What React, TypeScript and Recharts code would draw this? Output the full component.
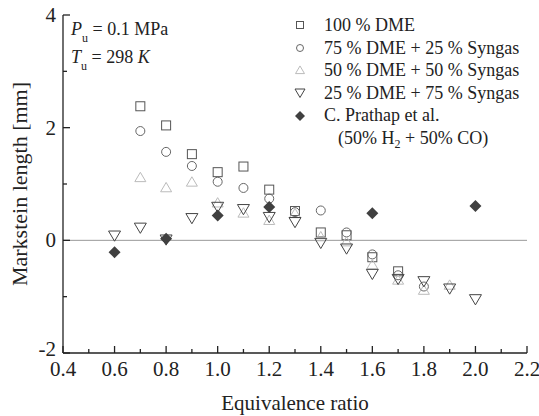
import React from "react";
import {
  ScatterChart,
  Scatter,
  XAxis,
  YAxis,
  ReferenceLine,
} from "recharts";

// equivalence ratio values per series
const xDme100 = [0.7, 0.8, 0.9, 1.0, 1.1, 1.2, 1.3, 1.4, 1.5, 1.6, 1.7];
const yDme100 = [2.38, 2.04, 1.53, 1.21, 1.31, 0.9, 0.52, 0.14, 0.09, -0.3, -0.55];

const xDme75 = [0.7, 0.8, 0.9, 1.0, 1.1, 1.2, 1.3, 1.4, 1.5, 1.6, 1.7, 1.8];
const yDme75 = [1.94, 1.57, 1.32, 1.04, 0.93, 0.74, 0.5, 0.53, 0.14, -0.25, -0.62, -0.82];

const xDme50 = [0.7, 0.8, 0.9, 1.0, 1.1, 1.2, 1.3, 1.4, 1.5, 1.6, 1.7, 1.8, 1.9];
const yDme50 = [1.12, 0.94, 1.04, 0.67, 0.49, 0.36, 0.48, 0.07, -0.02, -0.43, -0.7, -0.88, -0.79];

const xDme25 = [0.6, 0.7, 0.8, 0.9, 1.0, 1.1, 1.2, 1.3, 1.4, 1.5, 1.6, 1.7, 1.8, 1.9, 2.0];
const yDme25 = [0.08, 0.22, 0.01, 0.39, 0.59, 0.55, 0.41, 0.32, -0.05, -0.15, -0.6, -0.69, -0.73, -0.86, -1.05];

const xPrathap = [0.6, 0.8, 1.0, 1.2, 1.6, 2.0];
const yPrathap = [-0.21, 0.03, 0.44, 0.59, 0.48, 0.61];

const xTicks = [0.4, 0.5, 0.6, 0.7, 0.8, 0.9, 1.0, 1.1, 1.2, 1.3, 1.4, 1.5, 1.6, 1.7, 1.8, 1.9, 2.0, 2.1, 2.2];
const yTicks = [-2, -1, 0, 1, 2, 3, 4];

const legendLabels = [
  "100 % DME",
  "75 % DME + 25 % Syngas",
  "50 % DME + 50 % Syngas",
  "25 % DME + 75 % Syngas",
  "C. Prathap et al.",
];

const toPoints = (xs: number[], ys: number[]) => xs.map((x, i) => ({ x, y: ys[i] }));

const FONT = "'Liberation Serif', 'Times New Roman', serif";
const AXIS = "#222";

const Square = ({ cx, cy, s = 9 }: any) => (
  <rect x={cx - s / 2} y={cy - s / 2} width={s} height={s} fill="none" stroke="#555" strokeWidth={1} />
);
const Circle = ({ cx, cy, s = 9 }: any) => (
  <circle cx={cx} cy={cy} r={s / 2} fill="none" stroke="#666" strokeWidth={1} />
);
const TriUp = ({ cx, cy, s = 11 }: any) => (
  <polygon
    points={`${cx - s / 2},${cy + s * 0.4} ${cx + s / 2},${cy + s * 0.4} ${cx},${cy - s * 0.45}`}
    fill="none"
    stroke="#bbb"
    strokeWidth={1}
  />
);
const TriDown = ({ cx, cy, s = 12 }: any) => (
  <polygon
    points={`${cx - s / 2},${cy - s * 0.4} ${cx + s / 2},${cy - s * 0.4} ${cx},${cy + s * 0.45}`}
    fill="none"
    stroke="#444"
    strokeWidth={1}
  />
);
const Diamond = ({ cx, cy, s = 12 }: any) => (
  <polygon
    points={`${cx},${cy - s / 2} ${cx + s / 2},${cy} ${cx},${cy + s / 2} ${cx - s / 2},${cy}`}
    fill="#404040"
  />
);

const markers = [Square, Circle, TriUp, TriDown, Diamond];
const legendSizes = [7, 7, 9, 10, 10];

const XTick = ({ x, y, payload }: any) => {
  const v = payload.value;
  const major = Math.round(v * 10) % 2 === 0;
  return (
    <g>
      <line x1={x} x2={x} y1={y} y2={y - (major ? 7 : 4)} stroke={AXIS} strokeWidth={1.3} />
      {major && (
        <text x={x} y={y + 23} textAnchor="middle" fontSize={21} fontFamily={FONT} fill={AXIS}>
          {v.toFixed(1)}
        </text>
      )}
    </g>
  );
};

const YTick = ({ x, y, payload }: any) => {
  const v = payload.value;
  const major = v % 2 === 0;
  return (
    <g>
      <line x1={x} x2={x + (major ? 7 : 4)} y1={y} y2={y} stroke={AXIS} strokeWidth={1.3} />
      {major && (
        <text x={x - 7} y={y + (v === -2 ? 3 : 7)} textAnchor="end" fontSize={21} fontFamily={FONT} fill={AXIS}>
          {v}
        </text>
      )}
    </g>
  );
};

const YLabel = () => (
  <text
    x={19}
    y={184}
    transform="rotate(-90 19 184)"
    textAnchor="middle"
    dominantBaseline="central"
    fontSize={22}
    fontFamily={FONT}
    fill={AXIS}
  >
    Markstein length [mm]
  </text>
);

const XLabel = () => (
  <text x={295} y={410} textAnchor="middle" fontSize={21} fontFamily={FONT} fill={AXIS}>
    Equivalence ratio
  </text>
);

const LegendBox = () => (
  <div
    style={{
      position: "absolute",
      left: 290,
      top: 14,
      fontFamily: FONT,
      fontSize: 18,
      color: AXIS,
      lineHeight: "22.6px",
    }}
  >
    {legendLabels.map((label, i) => {
      const M = markers[i];
      return (
        <div key={label} style={{ display: "flex", alignItems: "center", height: 22.6 }}>
          <svg width={20} height={20} style={{ marginRight: 14 }}>
            <M cx={10} cy={10} s={legendSizes[i]} />
          </svg>
          <span style={{ whiteSpace: "nowrap" }}>{label}</span>
        </div>
      );
    })}
    <div style={{ paddingLeft: 48, whiteSpace: "nowrap", height: 22.6 }}>
      (50% H<sub style={{ fontSize: 12, verticalAlign: "-4px", lineHeight: 0 }}>2</sub> + 50% CO)
    </div>
  </div>
);

export default function App() {
  const series = [
    toPoints(xDme100, yDme100),
    toPoints(xDme75, yDme75),
    toPoints(xDme50, yDme50),
    toPoints(xDme25, yDme25),
    toPoints(xPrathap, yPrathap),
  ];
  return (
    <div style={{ position: "absolute", left: 0, top: 0, width: 539, height: 416, background: "#fff" }}>
      <ScatterChart width={539} height={416} margin={{ top: 15, right: 12, left: 0, bottom: 0 }}>
        <XAxis
          dataKey="x"
          type="number"
          domain={[0.4, 2.2]}
          ticks={xTicks}
          interval={0}
          height={63}
          tickSize={0}
          tickMargin={0}
          tickLine={false}
          tick={<XTick />}
          axisLine={{ stroke: AXIS, strokeWidth: 1.3 }}
          label={<XLabel />}
        />
        <XAxis
          xAxisId="top"
          orientation="top"
          type="number"
          domain={[0.4, 2.2]}
          height={0}
          tick={false}
          tickLine={false}
          axisLine={{ stroke: AXIS, strokeWidth: 1.3 }}
        />
        <YAxis
          dataKey="y"
          type="number"
          domain={[-2, 4]}
          ticks={yTicks}
          interval={0}
          width={63}
          tickSize={0}
          tickMargin={0}
          tickLine={false}
          tick={<YTick />}
          axisLine={{ stroke: AXIS, strokeWidth: 1.3 }}
          label={<YLabel />}
        />
        <YAxis
          yAxisId="right"
          orientation="right"
          type="number"
          domain={[-2, 4]}
          width={0}
          tick={false}
          tickLine={false}
          axisLine={{ stroke: AXIS, strokeWidth: 1.3 }}
        />
        <ReferenceLine y={0} stroke="#999" strokeWidth={1} />
        {series.map((pts, i) => {
          const M = markers[i];
          return (
            <Scatter
              key={i}
              data={pts}
              name={legendLabels[i]}
              isAnimationActive={false}
              shape={(p: any) => <M cx={p.cx} cy={p.cy} />}
            />
          );
        })}
      </ScatterChart>
      <LegendBox />
      <svg
        width={539}
        height={416}
        style={{ position: "absolute", left: 0, top: 0, pointerEvents: "none" }}
        fontFamily={FONT}
        fontSize={18}
        fill={AXIS}
      >
        <text x={71} y={35}>
          <tspan fontStyle="italic">P</tspan>
          <tspan dy={7} fontSize={12}>u</tspan>
          <tspan dy={-7}> = 0.1 MPa</tspan>
        </text>
        <text x={71} y={63}>
          <tspan fontStyle="italic">T</tspan>
          <tspan dy={7} fontSize={12}>u</tspan>
          <tspan dy={-7}> = 298 </tspan>
          <tspan fontStyle="italic">K</tspan>
        </text>
      </svg>
    </div>
  );
}
